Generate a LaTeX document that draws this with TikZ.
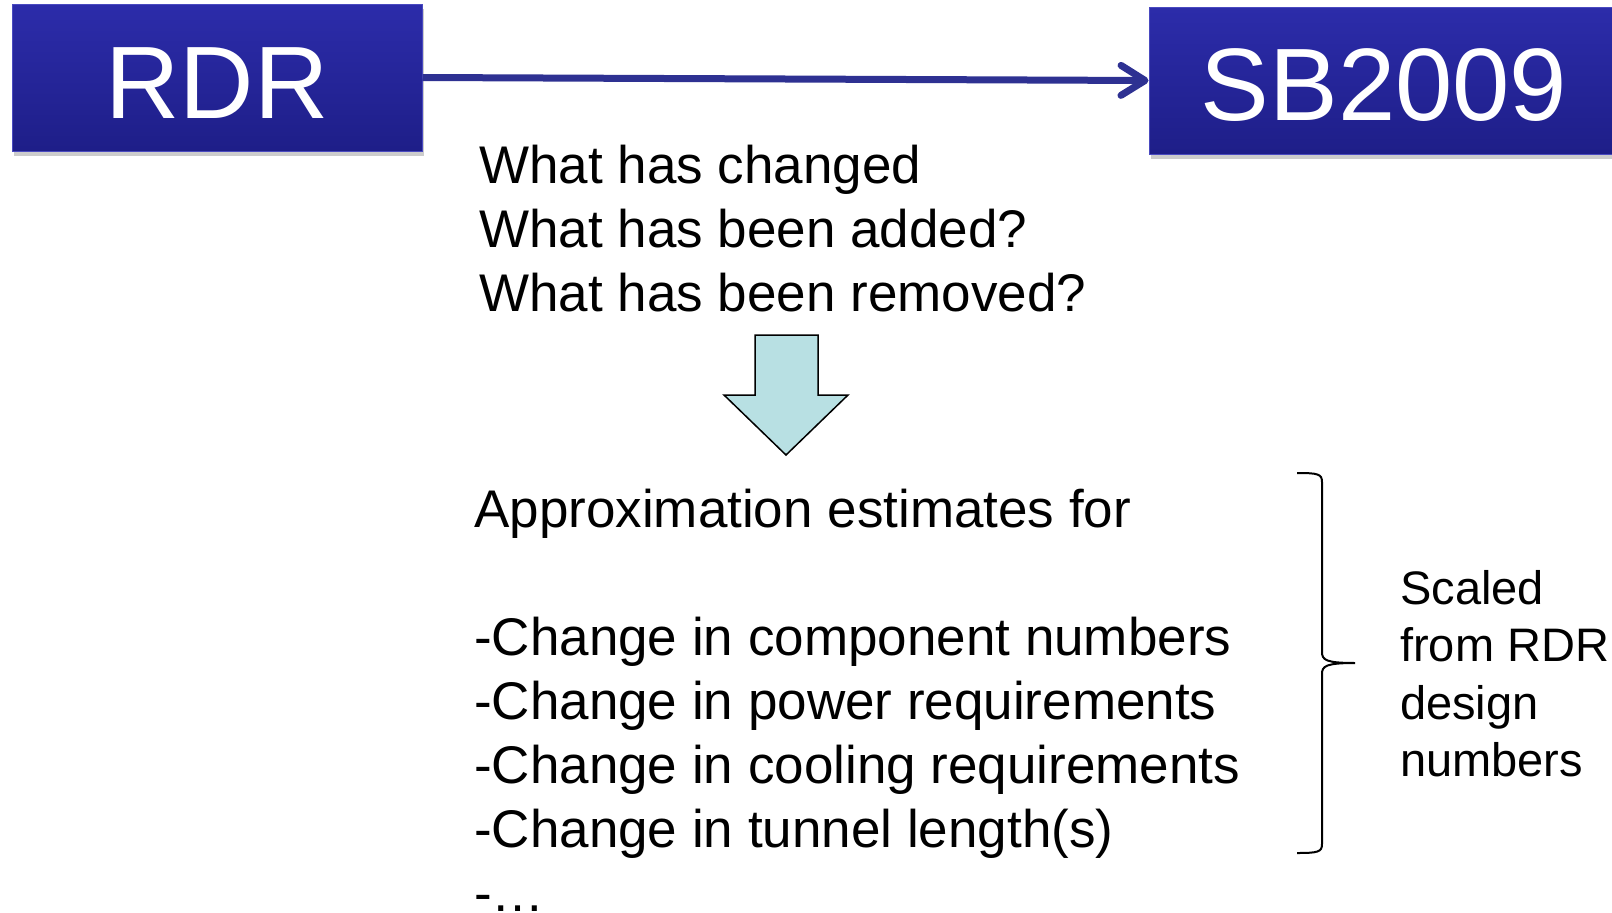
\documentclass[tikz,border=0pt]{standalone}
\usepackage{fontspec}
\setmainfont{Liberation Sans}
\usetikzlibrary{arrows.meta,shadows}
\definecolor{boxtop}{HTML}{2C2CAA}
\definecolor{boxbot}{HTML}{1E1E88}
\definecolor{boxedge}{HTML}{4A4AC0}
\definecolor{linkblue}{HTML}{2E3192}
\definecolor{arrowfill}{HTML}{B8E0E3}
\tikzset{
  titlebox/.style={draw=boxedge, line width=1pt, top color=boxtop, bottom color=boxbot,
    inner sep=0pt, text=white, font=\fontsize{103}{110}\selectfont, text height=82pt,
    drop shadow={shadow xshift=2pt, shadow yshift=-5pt, fill=black, opacity=0.2}},
  bigtext/.style={anchor=base west, inner sep=0pt, font=\fontsize{53}{64}\selectfont},
  sidetext/.style={anchor=base west, inner sep=0pt, font=\fontsize{47}{57}\selectfont},
  link/.style={draw=linkblue, line width=7pt, -{Straight Barb[length=24pt,width=30pt,round]}},
}
\begin{document}
\begin{tikzpicture}[x=1pt,y=-1pt]
\useasboundingbox (0,0) rectangle (1612,913);
% boxes
\node[titlebox, minimum width=410pt, minimum height=147pt] (rdr) at (217,77.5) {RDR};
\node[titlebox, minimum width=470pt, minimum height=147pt] (sb) at (1384,80.5) {SB2009};
\draw[link] (rdr.east) -- (sb.west);
% questions
\node[bigtext] (q1) at (479,183) {What has changed};
\node[bigtext] (q2) at (479,247) {What has been added?};
\node[bigtext] (q3) at (479,311) {What has been removed?};
% down arrow
\draw[line width=1.5pt, fill=arrowfill, line join=miter]
  (755,335) -- (818,335) -- (818,395) -- (848,395) -- (786,455) -- (724,395) -- (755,395) -- cycle;
% estimates
\node[bigtext] (e0) at (474,527) {Approximation estimates for};
\node[bigtext] (e1) at (474,655) {-Change in component numbers};
\node[bigtext] (e2) at (474,719) {-Change in power requirements};
\node[bigtext] (e3) at (474,783) {-Change in cooling requirements};
\node[bigtext] (e4) at (474,847) {-Change in tunnel length(s)};
\node[bigtext] (e5) at (474,911) {-\dots};
% brace
\draw[line width=2pt]
  (1297,473) .. controls (1318,473) and (1322,474) .. (1322,482)
  -- (1322,652) .. controls (1322,660) and (1326,663) .. (1355,663)
  (1355,663) .. controls (1326,663) and (1322,666) .. (1322,674)
  -- (1322,844) .. controls (1322,852) and (1318,853) .. (1297,853);
% side text
\node[sidetext] (s1) at (1400,604) {Scaled};
\node[sidetext] (s2) at (1400,661.5) {from RDR};
\node[sidetext] (s3) at (1400,719) {design};
\node[sidetext] (s4) at (1400,776.5) {numbers};
\end{tikzpicture}
\end{document}
